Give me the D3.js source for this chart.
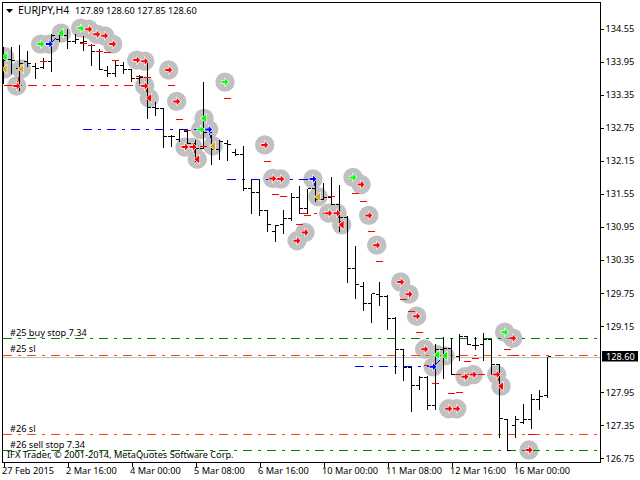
<!DOCTYPE html>
<html><head><meta charset="utf-8">
<script src="https://cdn.jsdelivr.net/npm/d3@7"></script>
<style>
html,body{margin:0;padding:0;background:#fff}
svg{display:block}
text{font-family:"Noto Sans","Liberation Sans",Arial,sans-serif;font-size:9.2px;fill:#000;white-space:pre}
</style></head><body>
<script>
const opens=[133.95,133.99,133.83,133.95,133.86,133.84,133.96,134.36,134.42,134.31,134.30,134.25,134.13,133.80,133.73,133.89,133.81,133.65,133.67,133.12,133.10,132.60,132.53,132.68,132.47,132.38,132.66,132.35,132.47,132.31,132.27,131.65,131.58,131.25,130.86,130.99,131.10,131.48,131.29,131.65,131.45,131.48,131.36,131.12,130.20,129.87,129.56,129.73,129.69,129.29,128.73,128.40,128.07,128.22,127.70,128.73,128.75,128.59,128.96,128.79,128.81,128.90,128.46,127.46,127.35,127.40,127.45,127.82,127.89];
const highs=[134.22,134.22,134.27,134.15,133.93,134.03,134.47,134.47,134.55,134.47,134.43,134.28,134.19,133.89,133.97,133.95,133.83,133.71,133.95,133.22,133.10,132.62,132.72,132.71,132.53,133.59,132.62,132.53,132.54,132.37,132.43,131.83,131.81,131.27,130.99,131.27,131.58,131.70,131.65,131.81,131.76,131.86,131.73,131.16,130.62,129.96,129.75,129.96,129.72,129.33,128.73,128.40,128.25,128.25,128.83,128.97,128.95,129.02,128.96,128.96,129.04,128.93,128.46,127.48,127.52,127.74,127.92,128.00,128.60];
const lows=[133.56,133.73,133.42,133.86,133.65,133.82,133.77,134.31,134.19,134.28,134.16,133.88,133.81,133.68,133.68,133.73,133.59,133.56,132.92,132.98,132.40,132.42,132.50,132.47,132.13,132.38,132.08,132.17,132.15,132.25,131.61,131.19,131.15,130.86,130.68,130.84,131.06,131.19,131.19,131.41,131.45,131.35,130.86,129.94,129.65,129.44,129.21,129.53,129.08,128.29,128.17,127.60,128.00,127.64,127.64,128.20,128.27,128.53,128.81,128.72,128.53,128.29,127.13,126.89,127.13,127.39,127.29,127.64,127.85];
const closes=[133.98,133.97,133.92,133.92,133.83,133.96,134.43,134.42,134.31,134.36,134.31,134.13,133.81,133.73,133.89,133.81,133.65,133.67,133.12,133.10,132.60,132.59,132.72,132.47,132.38,132.66,132.35,132.50,132.45,132.27,131.65,131.58,131.25,130.99,130.97,131.10,131.48,131.29,131.65,131.45,131.48,131.36,131.12,130.20,129.90,129.56,129.75,129.69,129.29,128.73,128.40,128.07,128.22,127.70,128.73,128.75,128.27,128.96,128.82,128.79,128.90,128.46,127.48,126.89,127.45,127.45,127.82,127.87,128.60];

const priceTicks=[134.55,133.95,133.35,132.75,132.15,131.55,130.95,130.35,129.75,129.15,127.95,127.35,126.75];
const timeTickBars=[0,8,16,24,32,40,48,56,64];
const timeTickLabels=["27 Feb 2015","2 Mar 16:00","4 Mar 00:00","5 Mar 08:00","6 Mar 16:00","10 Mar 00:00","11 Mar 08:00","12 Mar 16:00","16 Mar 00:00"];

// signal markers: [bar position, price, kind]
const markers=[[0.15,134.04,"gl"],[0.15,133.82,"ol"],[1.65,133.51,"r"],[2.22,133.82,"ol"],[4.65,134.27,"gr"],[5.73,134.27,"br"],[7.22,134.47,"gl"],[9.65,134.56,"gr"],[10.65,134.54,"r"],[11.65,134.45,"r"],[12.65,134.42,"r"],[13.65,134.27,"r"],[16.65,133.98,"r"],[17.65,133.96,"r"],[20.65,133.80,"r"],[17.65,133.51,"r"],[18.22,133.29,"rl"],[21.65,133.23,"r"],[25.06,132.92,"gl"],[24.65,132.72,"gr"],[25.65,132.72,"br"],[22.69,132.40,"r"],[23.69,132.40,"r"],[24.22,132.18,"rl"],[26.19,132.42,"ol"],[27.69,133.58,"gr"],[32.65,132.44,"r"],[33.65,131.83,"r"],[34.65,131.82,"r"],[38.69,131.82,"br"],[39.31,131.50,"ol"],[43.69,131.85,"gr"],[44.69,131.72,"r"],[40.65,131.20,"r"],[41.69,131.20,"r"],[42.27,130.99,"rl"],[45.65,131.16,"r"],[37.69,130.85,"r"],[36.69,130.70,"r"],[46.65,130.62,"r"],[49.65,129.95,"r"],[50.69,129.73,"r"],[51.65,129.33,"r"],[52.65,128.73,"r"],[53.69,128.41,"br"],[54.22,128.63,"gl"],[55.19,128.61,"gl"],[57.69,128.23,"r"],[58.73,128.27,"r"],[61.65,128.27,"r"],[62.19,128.06,"rl"],[62.65,129.04,"gr"],[63.65,128.93,"r"],[55.65,127.65,"r"],[56.65,127.65,"r"],[65.69,126.90,"r"]];

// short red stop marks: [bar, price]
const stopMarks=[[5,133.96],[10,134.28],[11,134.25],[12,134.13],[13,134.12],[14,133.98],[17,133.69],[18,133.67],[21,133.51],[22,132.90],[23,132.70],[25,132.41],[28,133.29],[33,132.14],[34,131.54],[35,131.51],[37,131.00],[38,131.16],[41,131.51],[44,131.56],[45,131.42],[46,130.87],[47,130.33],[50,129.64],[51,129.42],[52,129.04],[53,128.44],[54,128.11],[56,127.93],[57,127.95],[58,128.51],[59,128.57],[63,128.73],[64,128.62],[66,127.19]];

// trade lines: [bar1, price1, bar2, price2, colour]
const tradeLines=[[0,133.51,17.65,133.51,"#ff0000"],[9.94,132.72,25.65,132.72,"#0000ff"],[27.94,131.82,38.69,131.82,"#0000ff"],[36.94,131.20,41.69,131.20,"#ff0000"],[43.94,128.41,53.69,128.41,"#0000ff"],[56,128.27,61.65,128.27,"#ff0000"],[5.73,134.27,7.22,134.47,"#0000ff"],[1.65,133.51,2.22,133.82,"#ff0000"],[25.65,132.72,26.19,132.42,"#0000ff"],[17.65,133.51,18.22,133.29,"#ff0000"],[38.69,131.82,39.31,131.50,"#0000ff"],[41.69,131.20,42.27,130.99,"#ff0000"],[53.69,128.41,55.19,128.61,"#0000ff"],[23.69,132.40,24.22,132.18,"#ff0000"],[61.65,128.27,62.19,128.06,"#ff0000"]];

// order levels: [price, colour]
const levels=[[128.93,"#008000"],[128.62,"#ff4500"],[127.19,"#ff4500"],[126.90,"#008000"]];
const bidPrice=128.60, bidLinePrice=128.58;
const orderLabels=[["#25 buy stop 7.34",129.03],["#25 sl",128.73],["#26 sl",127.29],["#26 sell stop 7.34",126.99]];
const headerSymbol="EURJPY,H4";
const headerValues=[127.89,128.60,127.85,128.60];

const W=640,H=480,L=2.5,R=600.5,T=2.5,B=462.5;
const x=d3.scaleLinear().domain([0,68]).range([3.5,547.5]);
const y=d3.scaleLinear().domain([126.75,134.55]).range([458.3,28.7]);
const snap=v=>Math.floor(v)+.5;
const kindColor={r:"#ff0000",rl:"#ff0000",gr:"#00ff00",gl:"#00ff00",br:"#0000ff",ol:"#daa520"};
const rightArrow="M-3.5,-1H0V-3.5L3.5,0L0,3.5V1H-3.5Z", leftArrow="M-3,0L2,-4V4Z";
const dash="9,6,3,6";
const fontStack='"Noto Sans","Liberation Sans",Arial,sans-serif';

const svg=d3.select("body").append("svg").attr("width",W).attr("height",H);
svg.append("defs").append("clipPath").attr("id","plot").append("rect").attr("x",L).attr("y",T).attr("width",R-L).attr("height",B-T);
const plot=svg.append("g").attr("clip-path","url(#plot)");

plot.append("g").selectAll("circle").data(markers).join("circle")
 .attr("cx",d=>x(d[0])).attr("cy",d=>y(d[1])).attr("r",9.7).attr("fill","#c0c0c0");

plot.append("g").selectAll("line").data(levels).join("line")
 .attr("x1",L+.5).attr("x2",R).attr("y1",d=>snap(y(d[0]))).attr("y2",d=>snap(y(d[0])))
 .attr("stroke",d=>d[1]).attr("stroke-dasharray",dash).attr("shape-rendering","crispEdges");
plot.append("line").attr("x1",L).attr("x2",R).attr("y1",snap(y(bidLinePrice))).attr("y2",snap(y(bidLinePrice)))
 .attr("stroke","#c0c0c0").attr("shape-rendering","crispEdges");

plot.append("g").selectAll("line").data(tradeLines).join("line")
 .attr("x1",d=>x(d[0])).attr("y1",d=>snap(y(d[1]))).attr("x2",d=>x(d[2])).attr("y2",d=>snap(y(d[3])))
 .attr("stroke",d=>d[4]).attr("stroke-dasharray",dash).attr("shape-rendering","crispEdges");

const bars=plot.append("g").attr("stroke","#000").attr("shape-rendering","crispEdges");
opens.forEach((o,i)=>{
  const px=x(i);
  bars.append("line").attr("x1",px).attr("x2",px).attr("y1",snap(y(highs[i]))).attr("y2",snap(y(lows[i]))+.5);
  bars.append("line").attr("x1",px-3.5).attr("x2",px).attr("y1",snap(y(o))).attr("y2",snap(y(o)));
  bars.append("line").attr("x1",px).attr("x2",px+3.5).attr("y1",snap(y(closes[i]))).attr("y2",snap(y(closes[i])));
});

plot.append("g").selectAll("line").data(stopMarks).join("line")
 .attr("x1",d=>x(d[0])-3.5).attr("x2",d=>x(d[0])+3.5).attr("y1",d=>snap(y(d[1]))).attr("y2",d=>snap(y(d[1])))
 .attr("stroke","#ff0000").attr("shape-rendering","crispEdges");

plot.append("g").selectAll("path").data(markers).join("path")
 .attr("transform",d=>`translate(${x(d[0])},${y(d[1])})`)
 .attr("d",d=>(d[2]==="rl"||d[2]==="gl"||d[2]==="ol")?leftArrow:rightArrow)
 .attr("fill",d=>kindColor[d[2]]).attr("stroke","#fff").attr("stroke-width",1.2).attr("paint-order","stroke");

svg.append("g").selectAll("text").data(orderLabels).join("text")
 .attr("x",10).attr("y",d=>y(d[1])).attr("dy","0.35em").text(d=>d[0]);

svg.append("rect").attr("x",L).attr("y",T).attr("width",R-L).attr("height",B-T)
 .attr("fill","none").attr("stroke","#000").attr("shape-rendering","crispEdges");

const yAxis=d3.axisRight(y).tickValues(priceTicks).tickFormat(d3.format(".2f")).tickSize(3).tickPadding(2);
const gy=svg.append("g").attr("transform",`translate(${R},0)`).call(yAxis);
gy.select(".domain").remove();
gy.selectAll("text").style("font-family",fontStack).style("font-size","9.2px").attr("fill","#000");
gy.selectAll("line").attr("stroke","#000").attr("shape-rendering","crispEdges");

const xAxis=d3.axisBottom(x).tickValues(timeTickBars).tickFormat((d,i)=>timeTickLabels[i]).tickSize(4).tickPadding(1);
const gx=svg.append("g").attr("transform",`translate(0,${B})`).call(xAxis);
gx.select(".domain").remove();
gx.selectAll("text").attr("text-anchor","start").attr("dx","-2").style("font-family",fontStack).style("font-size","9.2px").attr("fill","#000");
gx.selectAll("line").attr("stroke","#000").attr("shape-rendering","crispEdges");

svg.append("rect").attr("x",602).attr("y",351).attr("width",36).attr("height",10.5).attr("fill","#000");
svg.append("text").attr("x",606).attr("y",y(bidPrice)).attr("dy","0.35em").style("fill","#fff").text(bidPrice.toFixed(2));

svg.append("path").attr("d",d3.line()([[6,9],[13,9],[9.5,13]])+"Z").attr("fill","#000");
svg.append("text").attr("x",18).attr("y",10.7).attr("dy","0.35em").style("font-size","10.5px").text(headerSymbol);
svg.append("g").selectAll("text").data(headerValues).join("text")
 .attr("x",(d,i)=>75+31*i).attr("y",10.7).attr("dy","0.35em").text(d=>d.toFixed(2));
svg.append("text").attr("x",7).attr("y",454.7).attr("dy","0.35em").text("IFX Trader, © 2001-2014, MetaQuotes Software Corp.");
</script>
</body></html>
